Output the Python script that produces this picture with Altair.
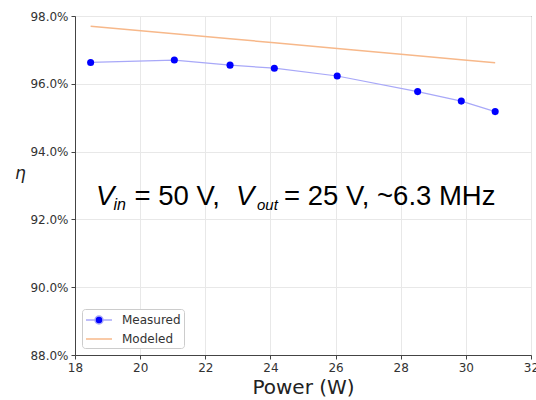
import altair as alt
import pandas as pd

# Data
power = [18.48, 21.05, 22.76, 24.12, 26.05, 28.52, 29.86, 30.90]
measured = [96.63, 96.70, 96.55, 96.46, 96.23, 95.77, 95.49, 95.18]
modeled = [97.70, 97.48, 97.33, 97.21, 97.04, 96.83, 96.71, 96.62]
series_names = ["Measured", "Modeled"]
x_ticks = [18, 20, 22, 24, 26, 28, 30, 32]
y_ticks = [88, 90, 92, 94, 96, 98]

df = pd.DataFrame({
    "power": power * 2,
    "eta": measured + modeled,
    "series": [series_names[0]] * len(power) + [series_names[1]] * len(power),
})

W, H = 456, 339
FONT = "DejaVu Sans"

xenc = alt.X("power:Q", scale=alt.Scale(domain=[18, 32], nice=False),
             axis=alt.Axis(values=x_ticks, format="d", title="Power (W)", labelFlush=False,
                           titleFontSize=20, titleFont=FONT, titleFontWeight="normal",
                           titleColor="#222", titleY=38, titleBaseline="alphabetic"))
yenc = alt.Y("eta:Q", scale=alt.Scale(domain=[88, 98], nice=False, zero=False),
             axis=alt.Axis(values=y_ticks, labelExpr="format(datum.value, '.1f') + '%'",
                           title="η", titleAngle=0, titleFontStyle="italic",
                           titleFontSize=17, titleFont=FONT, titleFontWeight="normal",
                           titleColor="#222", titleX=-55, titleY=157,
                           titleAlign="center", titleBaseline="middle"))

base = alt.Chart(df)

meas_line = base.transform_filter(alt.datum.series == "Measured").mark_line(
    color="#a8a8f8", strokeWidth=1.2).encode(x=xenc, y=yenc)
meas_pts = base.transform_filter(alt.datum.series == "Measured").mark_circle(
    color="#0000ff", size=50, opacity=1).encode(x=xenc, y=yenc)
mod_line = base.transform_filter(alt.datum.series == "Modeled").mark_line(
    color="#f7b88a", strokeWidth=1.5).encode(x=xenc, y=yenc)

meas_path = ("M-1.857,0H-0.571M0.571,0H1.857M-0.571,0"
             "A0.571,0.571 0 1,0 0.571,0A0.571,0.571 0 1,0 -0.571,0Z")
mod_path = "M-1.857,0H1.857"
leg = alt.Legend(orient="bottom-left", offset=7, title=None, padding=3,
                 strokeColor="#cccccc", fillColor="white", cornerRadius=3,
                 labelFont=FONT, labelFontSize=12, labelColor="#333",
                 symbolSize=196, symbolOffset=6, rowPadding=4, labelOffset=15,
                 symbolStrokeWidth=1.5)
dom = alt.Scale(domain=series_names, range=["#0000ff", "#f7b88a"])
sdom = alt.Scale(domain=series_names, range=["#a8a8f8", "#f7b88a"])
shp = alt.Scale(domain=series_names, range=[meas_path, mod_path])
legend_layer = base.transform_filter("false").mark_point(filled=True, opacity=1).encode(
    x=xenc, y=yenc,
    fill=alt.Fill("series:N", scale=dom, legend=leg),
    stroke=alt.Stroke("series:N", scale=sdom, legend=leg),
    shape=alt.Shape("series:N", scale=shp, legend=leg),
)


def text_layer(txt, x, y, size, italic):
    m = alt.Chart(pd.DataFrame({"label": [txt]})).mark_text(
        align="left", baseline="alphabetic", font="Liberation Sans",
        fontSize=size, fontStyle="italic" if italic else "normal", color="black")
    return m.encode(x=alt.value(x), y=alt.value(y), text="label:N")


annot = [
    text_layer("V", 21, 189, 27.5, True),
    text_layer("in", 38.5, 193.5, 16, True),
    text_layer("= 50 V,", 59.5, 189, 27.5, False),
    text_layer("V", 161, 189, 27.5, True),
    text_layer("out", 182, 193.5, 15, True),
    text_layer("= 25 V, ~6.3 MHz", 209, 189, 27.5, False),
]

chart = alt.layer(meas_line, mod_line, meas_pts, legend_layer, *annot).properties(
    width=W, height=H,
    autosize=alt.AutoSizeParams(type="none"),
    padding={"left": 75, "top": 16, "right": 5, "bottom": 45},
).configure_view(stroke="#444", strokeWidth=1).configure_axis(
    labelFont=FONT, labelFontSize=12, labelColor="#333",
    tickColor="#444", tickSize=4, domainColor="#444", labelPadding=3,
    gridColor="#e8e8e8", grid=True,
)

chart.save("out.html", embed_options={"renderer": "svg", "actions": False})
